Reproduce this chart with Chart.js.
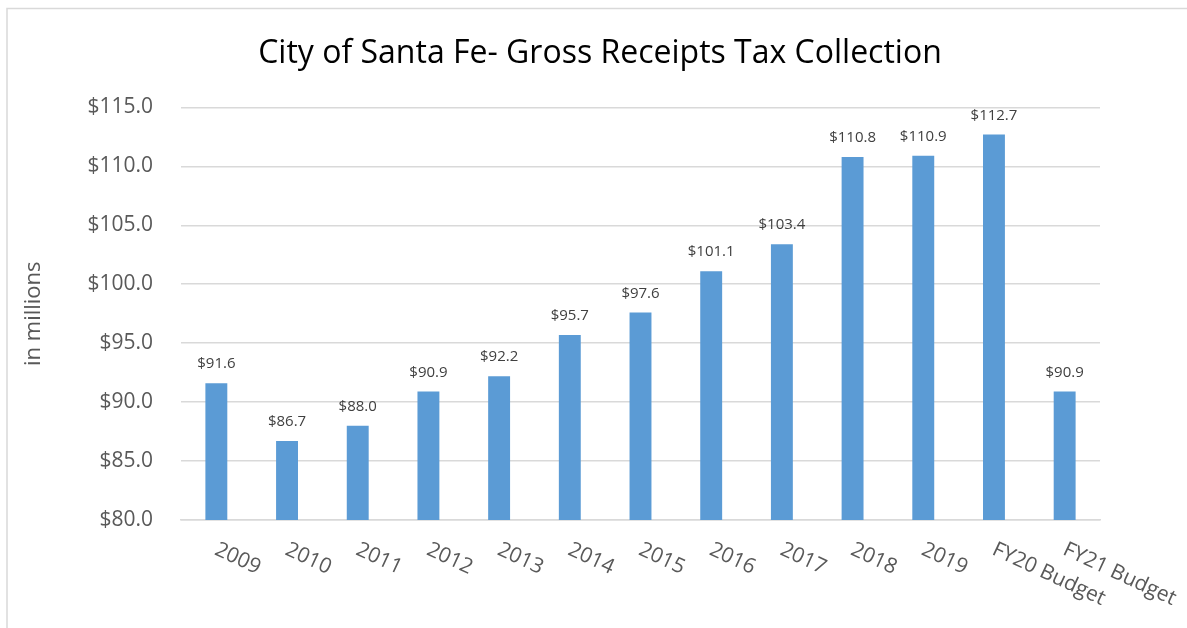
<!DOCTYPE html>
<html>
<head>
<meta charset="utf-8">
<script src="https://cdn.jsdelivr.net/npm/chart.js@4.4.1/dist/chart.umd.min.js"></script>
<style>
  html, body { margin: 0; padding: 0; background: #fff; }
  #wrap { position: relative; width: 1187px; height: 628px; }
</style>
</head>
<body>
<div id="wrap"><canvas id="grtChart"></canvas></div>
<script>
const categories = ['2009', '2010', '2011', '2012', '2013', '2014', '2015', '2016', '2017', '2018', '2019', 'FY20 Budget', 'FY21 Budget'];
const receipts = [91.6, 86.7, 88.0, 90.9, 92.2, 95.7, 97.6, 101.1, 103.4, 110.8, 110.9, 112.7, 90.9];
const yMin = 80;
const yMax = 115;
const yStep = 5;

const FONT = '"Open Sans", "Liberation Sans", sans-serif';

// Frame round the whole chart (Excel style chart border)
const framePlugin = {
  id: 'frame',
  beforeDraw(chart) {
    const ctx = chart.ctx;
    ctx.save();
    ctx.strokeStyle = '#d9d9d9';
    ctx.lineWidth = 1.5;
    ctx.strokeRect(7, 8.5, chart.width + 20, chart.height + 20);
    ctx.restore();
  }
};

// Value labels above bars + slanted category labels
const labelsPlugin = {
  id: 'labels',
  afterDatasetsDraw(chart) {
    const ctx = chart.ctx;
    const meta = chart.getDatasetMeta(0);
    ctx.save();
    ctx.fillStyle = '#404040';
    ctx.font = '15px ' + FONT;
    ctx.textAlign = 'center';
    ctx.textBaseline = 'alphabetic';
    meta.data.forEach((bar, i) => {
      ctx.fillText('$' + receipts[i].toFixed(1), bar.x, bar.y - 15);
    });

    const xScale = chart.scales.x;
    ctx.fillStyle = '#595959';
    ctx.font = '21px ' + FONT;
    ctx.textAlign = 'left';
    ctx.textBaseline = 'top';
    categories.forEach((label, i) => {
      const x = xScale.getPixelForValue(i);
      ctx.save();
      ctx.translate(x + 4, chart.chartArea.bottom + 19);
      ctx.rotate(25 * Math.PI / 180);
      ctx.fillText(label, 0, 0);
      ctx.restore();
    });
    ctx.restore();
  }
};

new Chart(document.getElementById('grtChart').getContext('2d'), {
  type: 'bar',
  data: {
    labels: categories,
    datasets: [{
      data: receipts,
      backgroundColor: '#5b9bd5',
      borderWidth: 0,
      barPercentage: 0.31,
      categoryPercentage: 1.0
    }]
  },
  options: {
    responsive: true,
    maintainAspectRatio: false,
    animation: false,
    layout: { padding: { left: 13, right: 0, top: 0, bottom: 0 } },
    plugins: {
      legend: { display: false },
      tooltip: { enabled: false },
      title: {
        display: true,
        text: 'City of Santa Fe- Gross Receipts Tax Collection',
        font: { family: FONT, size: 32, weight: 'normal' },
        color: '#000000',
        padding: { top: 35, bottom: 34 }
      }
    },
    scales: {
      y: {
        min: yMin,
        max: yMax,
        ticks: {
          stepSize: yStep,
          color: '#595959',
          font: { family: FONT, size: 21 },
          padding: 28,
          callback: value => '$' + value.toFixed(1)
        },
        grid: { color: '#d9d9d9', lineWidth: 1.5, drawTicks: false },
        border: { display: false },
        title: {
          display: true,
          text: 'in millions',
          color: '#595959',
          font: { family: FONT, size: 22 },
          padding: 8
        },
        afterFit: scale => { scale.width = 168; }
      },
      // empty right-hand spacer so the title centres on the whole frame
      spacer: {
        position: 'right',
        display: true,
        ticks: { display: false },
        grid: { display: false, drawTicks: false },
        border: { display: false },
        afterFit: scale => { scale.width = 87; }
      },
      x: {
        ticks: { display: false },
        grid: { display: false, drawTicks: false },
        border: { color: '#d9d9d9', width: 1.5 },
        afterFit: scale => { scale.height = 108; }
      }
    }
  },
  plugins: [framePlugin, labelsPlugin]
});
</script>
</body>
</html>
